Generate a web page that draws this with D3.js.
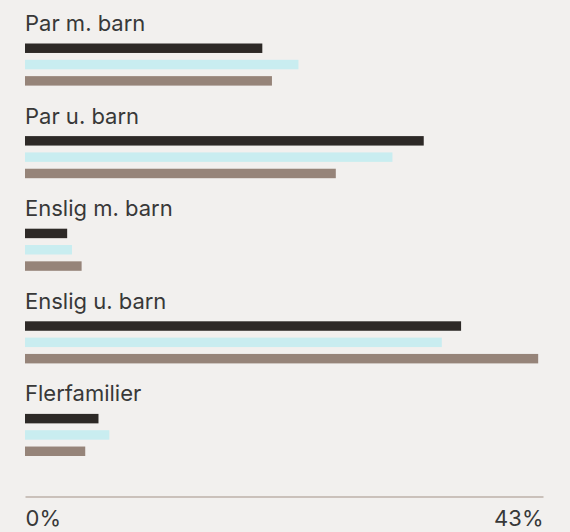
<!DOCTYPE html>
<html>
<head>
<meta charset="utf-8">
<script src="https://cdn.jsdelivr.net/npm/d3@7"></script>
<style>
  html, body { margin: 0; padding: 0; background: #f2f0ee; }
  svg { display: block; font-family: Inter, "Noto Sans", sans-serif; }
</style>
</head>
<body>
<div id="chart"></div>
<script>
  const categories = ["Par m. barn", "Par u. barn", "Enslig m. barn", "Enslig u. barn", "Flerfamilier"];
  const series = ["Serie 1", "Serie 2", "Serie 3"];
  const serie1 = [19.7, 33.1, 3.5, 36.2, 6.1];
  const serie2 = [22.7, 30.5, 3.9, 34.6, 7.0];
  const serie3 = [20.5, 25.8, 4.7, 42.6, 5.0];
  const colors = ["#2d2926", "#c9edf0", "#968479"];
  const xMax = 43;
  const tickValues = [0, 43];

  const width = 570, height = 532;
  const values = [serie1, serie2, serie3];
  const data = categories.map((c, i) => ({
    category: c,
    values: series.map((s, j) => ({ series: s, value: values[j][i] }))
  }));

  const svg = d3.select("#chart")
    .append("svg")
    .attr("width", width)
    .attr("height", height);

  const x = d3.scaleLinear()
    .domain([0, xMax])
    .range([25, 543]);

  const y0 = d3.scaleBand()
    .domain(categories)
    .range([0, 463]);

  const y1 = d3.scaleBand()
    .domain(series)
    .range([43.5, 85.6])
    .paddingInner(0.42);

  const color = d3.scaleOrdinal().domain(series).range(colors);

  const groups = svg.selectAll(".group")
    .data(data)
    .join("g")
    .attr("class", "group")
    .attr("transform", d => `translate(0,${y0(d.category)})`);

  groups.append("text")
    .attr("x", 25)
    .attr("y", 31)
    .attr("fill", "#383838")
    .style("font-size", "22px")
    .text(d => d.category);

  groups.selectAll("rect")
    .data(d => d.values)
    .join("rect")
    .attr("x", x(0))
    .attr("y", d => y1(d.series))
    .attr("width", d => x(d.value) - x(0))
    .attr("height", y1.bandwidth())
    .attr("fill", d => color(d.series));

  const axis = svg.append("g")
    .attr("transform", "translate(0,496.5)")
    .call(d3.axisBottom(x).tickValues(tickValues).tickSize(0).tickFormat(d => d + "%"));

  axis.select(".domain").attr("stroke", "#a39287");
  axis.selectAll("text")
    .attr("y", 29.5)
    .attr("dy", 0)
    .attr("fill", "#383838")
    .style("font-size", "22px")
    .style("font-family", "Inter, sans-serif")
    .attr("text-anchor", (d, i) => i === 0 ? "start" : "end");
</script>
</body>
</html>
